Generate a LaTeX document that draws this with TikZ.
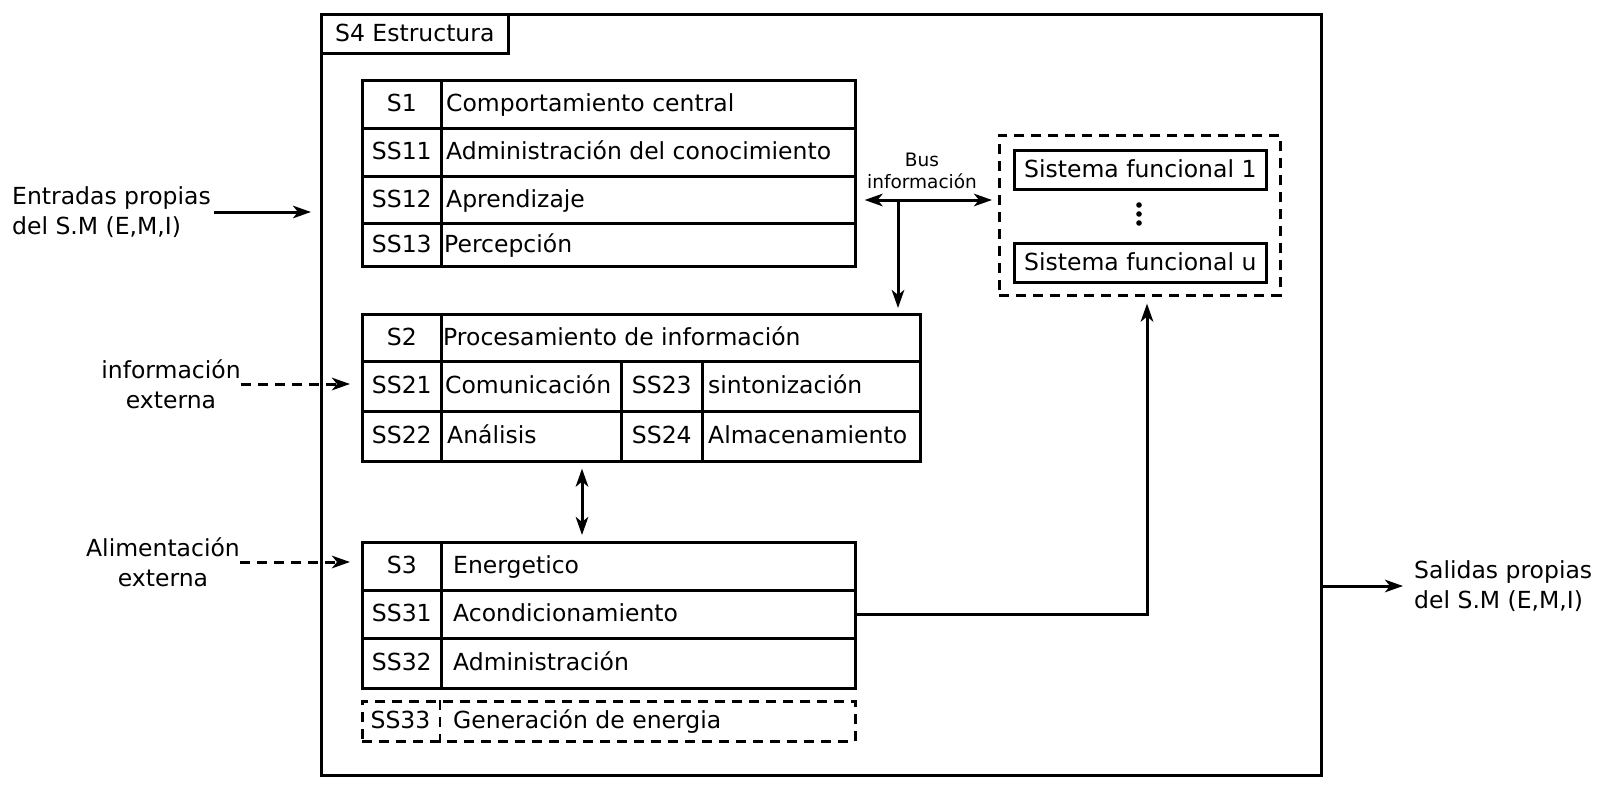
\documentclass[tikz,border=0pt]{standalone}
\usepackage{fontspec}
\setmainfont{DejaVu Sans}
\usetikzlibrary{arrows.meta,calc}
\newcommand{\tcell}[6]{\node[cell, minimum width=#4pt, minimum height=#5pt] (#1) at (#2,#3) {#6};}
\newcommand{\lcell}[7]{\node[cell, minimum width=#4pt, minimum height=#5pt] (#1) at (#2,#3) {}; \node[txt, anchor=west] (#1t) at ([xshift=#6pt]#1.west) {#7};}
\begin{document}
\begin{tikzpicture}[x=1pt,y=-1pt, font=\fontsize{23.5}{30}\selectfont,
 box/.style={draw, line width=2.6pt, inner sep=0pt},
 cell/.style={box, anchor=north west, text height=17pt, text depth=2pt},
 txt/.style={inner sep=0pt, text height=17pt, text depth=2pt},
 tip/.tip={Stealth[length=18pt,width=12.5pt,inset=5pt]},
 arr/.style={line width=3pt, -tip},
 darr/.style={line width=3pt, tip-tip},
 dsh/.style={dash pattern=on 10pt off 7pt}]
\fill[white] (0,0) rectangle (1600,800);
\useasboundingbox (0,0) rectangle (1600,800);

% outer structure
\node[box, anchor=north west, minimum width=1000pt, minimum height=761pt] (s4) at (320,13) {};
\node[box, anchor=north west, minimum width=187pt, minimum height=39pt, text height=17pt, text depth=2pt] (s4l) at (320,13) {S4 Estructura};

% S1
\tcell{s1a}{361}{79}{79}{48}{S1}
\lcell{s1b}{440}{79}{414}{48}{6}{Comportamiento central}
\tcell{s11a}{361}{127}{79}{48}{SS11}
\lcell{s11b}{440}{127}{414}{48}{6}{Administración del conocimiento}
\tcell{s12a}{361}{175}{79}{47}{SS12}
\lcell{s12b}{440}{175}{414}{47}{6}{Aprendizaje}
\tcell{s13a}{361}{222}{79}{43}{SS13}
\lcell{s13b}{440}{222}{414}{43}{4}{Percepción}

% S2
\tcell{s2a}{361}{313}{79}{47}{S2}
\lcell{s2b}{440}{313}{479}{47}{3}{Procesamiento de información}
\tcell{s21a}{361}{360}{79}{50}{SS21}
\lcell{s21b}{440}{360}{180}{50}{5}{Comunicación}
\tcell{s23a}{620}{360}{81}{50}{SS23}
\lcell{s23b}{701}{360}{218}{50}{7}{sintonización}
\tcell{s22a}{361}{410}{79}{50}{SS22}
\lcell{s22b}{440}{410}{180}{50}{7}{Análisis}
\tcell{s24a}{620}{410}{81}{50}{SS24}
\lcell{s24b}{701}{410}{218}{50}{7}{Almacenamiento}

% S3
\tcell{s3a}{361}{541}{79}{48}{S3}
\lcell{s3b}{440}{541}{414}{48}{13}{Energetico}
\tcell{s31a}{361}{589}{79}{48}{SS31}
\lcell{s31b}{440}{589}{414}{48}{13}{Acondicionamiento}
\tcell{s32a}{361}{637}{79}{50}{SS32}
\lcell{s32b}{440}{637}{414}{50}{13}{Administración}
\node[cell, dsh, minimum width=493pt, minimum height=40pt] (s33) at (361,700) {};
\node[txt] (s33a) at ([xshift=39.5pt]s33.west) {SS33};
\node[txt, anchor=west] (s33b) at ([xshift=92pt]s33.west) {Generación de energia};
\draw[line width=2.6pt, dsh] ([xshift=79pt]s33.north west) -- ([xshift=79pt]s33.south west);

% functional systems
\node[box, dsh, anchor=north west, minimum width=281pt, minimum height=160pt] (fsys) at (998,134) {};
\node[box, anchor=north west, minimum width=252pt, minimum height=39pt, text height=17pt, text depth=2pt] (sf1) at (1013,149) {Sistema funcional 1};
\node[box, anchor=north west, minimum width=252pt, minimum height=39pt, text height=17pt, text depth=2pt] (sfu) at (1013,242) {Sistema funcional u};
\fill (1139,205) circle (2.8pt) (1139,214) circle (2.8pt) (1139,223) circle (2.8pt);

% bus
\node[font=\fontsize{18.5}{22}\selectfont, align=center, inner sep=0pt] (bus) at (922,171) {Bus\\información};
\coordinate (busj) at (898,200);
\draw[darr, shorten <=8pt, shorten >=6pt] (s12b.east |- busj) -- (fsys.west |- busj);
\draw[arr, shorten >=5pt] (busj) -- (busj |- s2b.north);

% S2 <-> S3
\coordinate (m23) at (582,0);
\draw[darr, shorten <=6pt, shorten >=6pt] (m23 |- s22b.south) -- (m23 |- s3b.north);

% S3 -> functional systems
\coordinate (fx) at (1147,0);
\draw[arr, shorten >=7pt] (s31b.east) -| (fx |- fsys.south);

% external labels
\node[align=left, anchor=west, inner sep=0pt] (ent) at (12,212) {Entradas propias\\del S.M (E,M,I)};
\draw[arr, shorten <=3pt, shorten >=9pt] (ent.east) -- (s4.west |- ent.east);
\node[align=center, inner sep=0pt] (inf) at (171,384) {información\\externa};
\draw[arr, dsh, shorten >=11pt] (inf.east) -- (s21a.west |- inf.east);
\node[align=center, inner sep=0pt] (ali) at (163,562) {Alimentación\\externa};
\draw[arr, dsh, shorten >=11pt] (ali.east) -- (s3a.west |- ali.east);
\node[align=left, anchor=west, inner sep=0pt] (sal) at (1414,586) {Salidas propias\\del S.M (E,M,I)};
\draw[arr, shorten >=11pt] (s4.east |- sal.west) -- (sal.west);
\end{tikzpicture}
\end{document}
